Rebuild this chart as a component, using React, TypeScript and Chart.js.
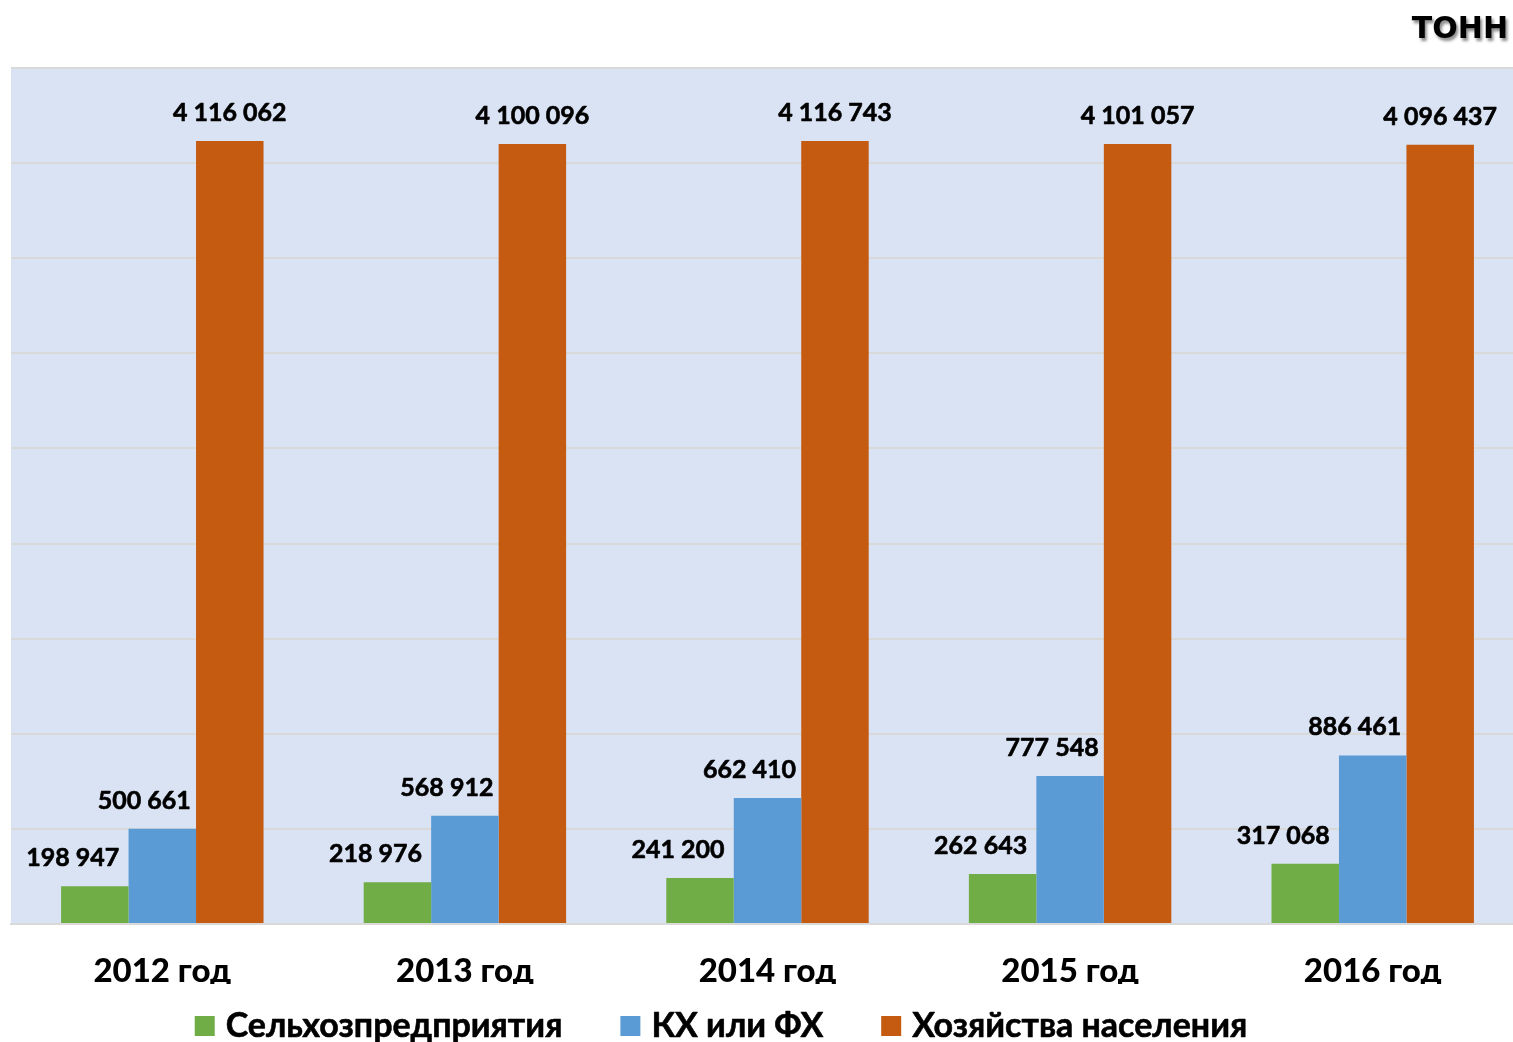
import React, { useEffect, useRef } from "react";
import { Chart, registerables } from "chart.js";

Chart.register(...registerables);

const categories = ["2012 год", "2013 год", "2014 год", "2015 год", "2016 год"];
const seriesNames = ["Сельхозпредприятия", "КХ или ФХ", "Хозяйства населения"];
const agriEnterprises = [198947, 218976, 241200, 262643, 317068];
const farmHouseholds = [500661, 568912, 662410, 777548, 886461];
const populationHouseholds = [4116062, 4100096, 4116743, 4101057, 4096437];
const seriesColors = ["#70ad47", "#5b9bd5", "#c55a11"];
const unitLabel = "ТОНН";

const FONT = "Lato, 'Open Sans', sans-serif";

const fmt = (v: number) => String(v).replace(/\B(?=(\d{3})+(?!\d))/g, " ");

const labelShiftX = [-22, -18, 0];

const boldText = (ctx: any, text: string, x: number, y: number, w: number) => {
  ctx.lineWidth = w;
  ctx.strokeStyle = ctx.fillStyle;
  ctx.lineJoin = "round";
  ctx.strokeText(text, x, y);
  ctx.fillText(text, x, y);
};

const decorPlugin = {
  id: "decor",
  beforeDraw(chart: any) {
    const { ctx, chartArea } = chart;
    ctx.save();
    ctx.fillStyle = "#ffffff";
    ctx.fillRect(0, 0, chart.width, chart.height);
    ctx.fillStyle = "#dae3f3";
    ctx.fillRect(chartArea.left, chartArea.top, chartArea.right - chartArea.left, chartArea.bottom - chartArea.top);
    ctx.restore();
  },
  afterDatasetsDraw(chart: any) {
    const { ctx } = chart;
    ctx.save();
    ctx.font = `bold 25px ${FONT}`;
    ctx.fillStyle = "#000";
    ctx.textAlign = "center";
    ctx.textBaseline = "middle";
    chart.data.datasets.forEach((ds: any, i: number) => {
      const meta = chart.getDatasetMeta(i);
      meta.data.forEach((el: any, j: number) => {
        boldText(ctx, fmt(ds.data[j]), el.x + labelShiftX[i], el.y - 28, 0.6);
      });
    });
    ctx.restore();
  },
  afterDraw(chart: any) {
    const { ctx } = chart;
    ctx.save();
    ctx.font = `bold 30px 'DejaVu Sans', sans-serif`;
    ctx.textAlign = "right";
    ctx.textBaseline = "middle";
    ctx.shadowColor = "rgba(0,0,0,0.45)";
    ctx.shadowOffsetX = 2;
    ctx.shadowOffsetY = 3;
    ctx.shadowBlur = 3;
    ctx.fillStyle = "#000";
    ctx.fillText(unitLabel, 1508, 30);
    ctx.restore();

    ctx.save();
    ctx.font = `bold 34px ${FONT}`;
    ctx.textBaseline = "middle";
    ctx.textAlign = "left";
    const box = 20;
    const gapBox = 11;
    const gapItem = 58;
    const widths = seriesNames.map((n) => ctx.measureText(n).width);
    const total = widths.reduce((a, w) => a + box + gapBox + w, 0) + gapItem * (seriesNames.length - 1);
    let x = 721 - total / 2;
    const y = 1026;
    seriesNames.forEach((n, i) => {
      ctx.fillStyle = seriesColors[i];
      ctx.fillRect(x, y - box / 2, box, box);
      ctx.fillStyle = "#000";
      boldText(ctx, n, x + box + gapBox, y, 0.6);
      x += box + gapBox + widths[i] + gapItem;
    });
    ctx.restore();
  },
};

export default function App() {
  const ref = useRef<HTMLCanvasElement>(null);
  useEffect(() => {
    if (!ref.current) return;
    const chart = new Chart(ref.current, {
      type: "bar",
      data: {
        labels: categories,
        datasets: [
          { label: seriesNames[0], data: agriEnterprises, backgroundColor: seriesColors[0] },
          { label: seriesNames[1], data: farmHouseholds, backgroundColor: seriesColors[1] },
          { label: seriesNames[2], data: populationHouseholds, backgroundColor: seriesColors[2] },
        ],
      },
      options: {
        responsive: false,
        animation: false,
        devicePixelRatio: 1,
        layout: { padding: { top: 68, left: 11, right: 0, bottom: 58 } },
        datasets: { bar: { barPercentage: 1, categoryPercentage: 0.669 } },
        plugins: { legend: { display: false }, tooltip: { enabled: false }, title: { display: false } },
        scales: {
          x: {
            grid: { display: false, drawTicks: false },
            border: { color: "#d9d9d9", width: 2 },
            ticks: { color: "#000", font: { family: FONT, size: 33, weight: "900" }, padding: 28 },
            afterFit: (s: any) => { s.height = 60; },
          },
          y: {
            min: 0,
            max: 4500000,
            ticks: { display: false, stepSize: 500000 },
            grid: { color: "#d9d9d9", lineWidth: 2, drawTicks: false },
            border: { display: false },
            afterFit: (s: any) => { s.width = 0; },
          },
        },
      },
      plugins: [decorPlugin],
    });
    return () => chart.destroy();
  }, []);
  return (
    <div style={{ position: "fixed", left: 0, top: 0, width: 1513, height: 1042, overflow: "hidden" }}>
      <canvas ref={ref} width={1524} height={1042} style={{ display: "block" }} />
    </div>
  );
}
